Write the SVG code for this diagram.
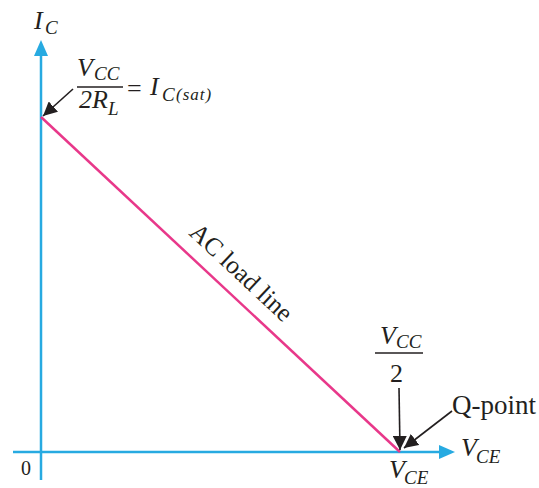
<svg xmlns="http://www.w3.org/2000/svg" width="539" height="488" viewBox="0 0 539 488">
<style>
.ax{stroke:#27aae1;stroke-width:2.5;fill:none}
.ld{stroke:#e8388a;stroke-width:2.5;fill:none}
.ar{stroke:#231f20;stroke-width:1.6;fill:none}
.t{font-family:"Liberation Serif",serif;fill:#231f20}
.i{font-style:italic}
.m{font-size:26px}
.s{font-size:19px}
</style>
<defs>
<marker id="ka" viewBox="0 0 10 10" refX="10" refY="5" markerWidth="14" markerHeight="14" orient="auto" markerUnits="userSpaceOnUse"><path d="M0,0 L10,5 L0,10 Z" fill="#231f20"/></marker>
</defs>
<g id="axes">
<line class="ax" x1="41" y1="480" x2="41" y2="50"/>
<path d="M41,40 L34,56 L48,56 Z" fill="#27aae1"/>
<line class="ax" x1="13" y1="452" x2="442" y2="452"/>
<path d="M455,452 L439,445 L439,459 Z" fill="#27aae1"/>
</g>
<g id="loadline">
<line class="ld" x1="41" y1="117" x2="400" y2="452"/>
<text class="t" font-size="25.5" transform="translate(188,234) rotate(43)">AC load line</text>
</g>
<g id="connectors">
<line class="ar" x1="73" y1="89" x2="43" y2="116" marker-end="url(#ka)"/>
<line class="ar" x1="399" y1="388" x2="400" y2="450" marker-end="url(#ka)"/>
<line class="ar" x1="452" y1="411" x2="404" y2="448" marker-end="url(#ka)"/>
</g>
<g id="labels">
<text class="t i m" x="34" y="29">I</text>
<text class="t i s" x="45" y="34">C</text>
<text class="t i m" x="77" y="76">V</text>
<text class="t i s" x="94" y="80">CC</text>
<line x1="77" y1="87" x2="123" y2="87" stroke="#231f20" stroke-width="1.4"/>
<text class="t i m" x="79" y="108">2R</text>
<text class="t i s" x="108" y="115">L</text>
<text class="t m" x="127" y="97">=</text>
<text class="t i m" x="150" y="95">I</text>
<text class="t i s" x="162" y="101">C</text>
<text class="t i" x="176" y="100" font-size="17" letter-spacing="1">(sat)</text>
<text class="t i m" x="380" y="344">V</text>
<text class="t i s" x="396" y="348">CC</text>
<line x1="375" y1="353" x2="423" y2="353" stroke="#231f20" stroke-width="1.4"/>
<text class="t m" x="390" y="382">2</text>
<text class="t" x="452" y="414" font-size="27">Q-point</text>
<text class="t i m" x="461" y="456">V</text>
<text class="t i s" x="476" y="463">CE</text>
<text class="t i m" x="389" y="478">V</text>
<text class="t i s" x="404" y="484">CE</text>
<text class="t" x="21" y="475" font-size="20">0</text>
</g>
</svg>
